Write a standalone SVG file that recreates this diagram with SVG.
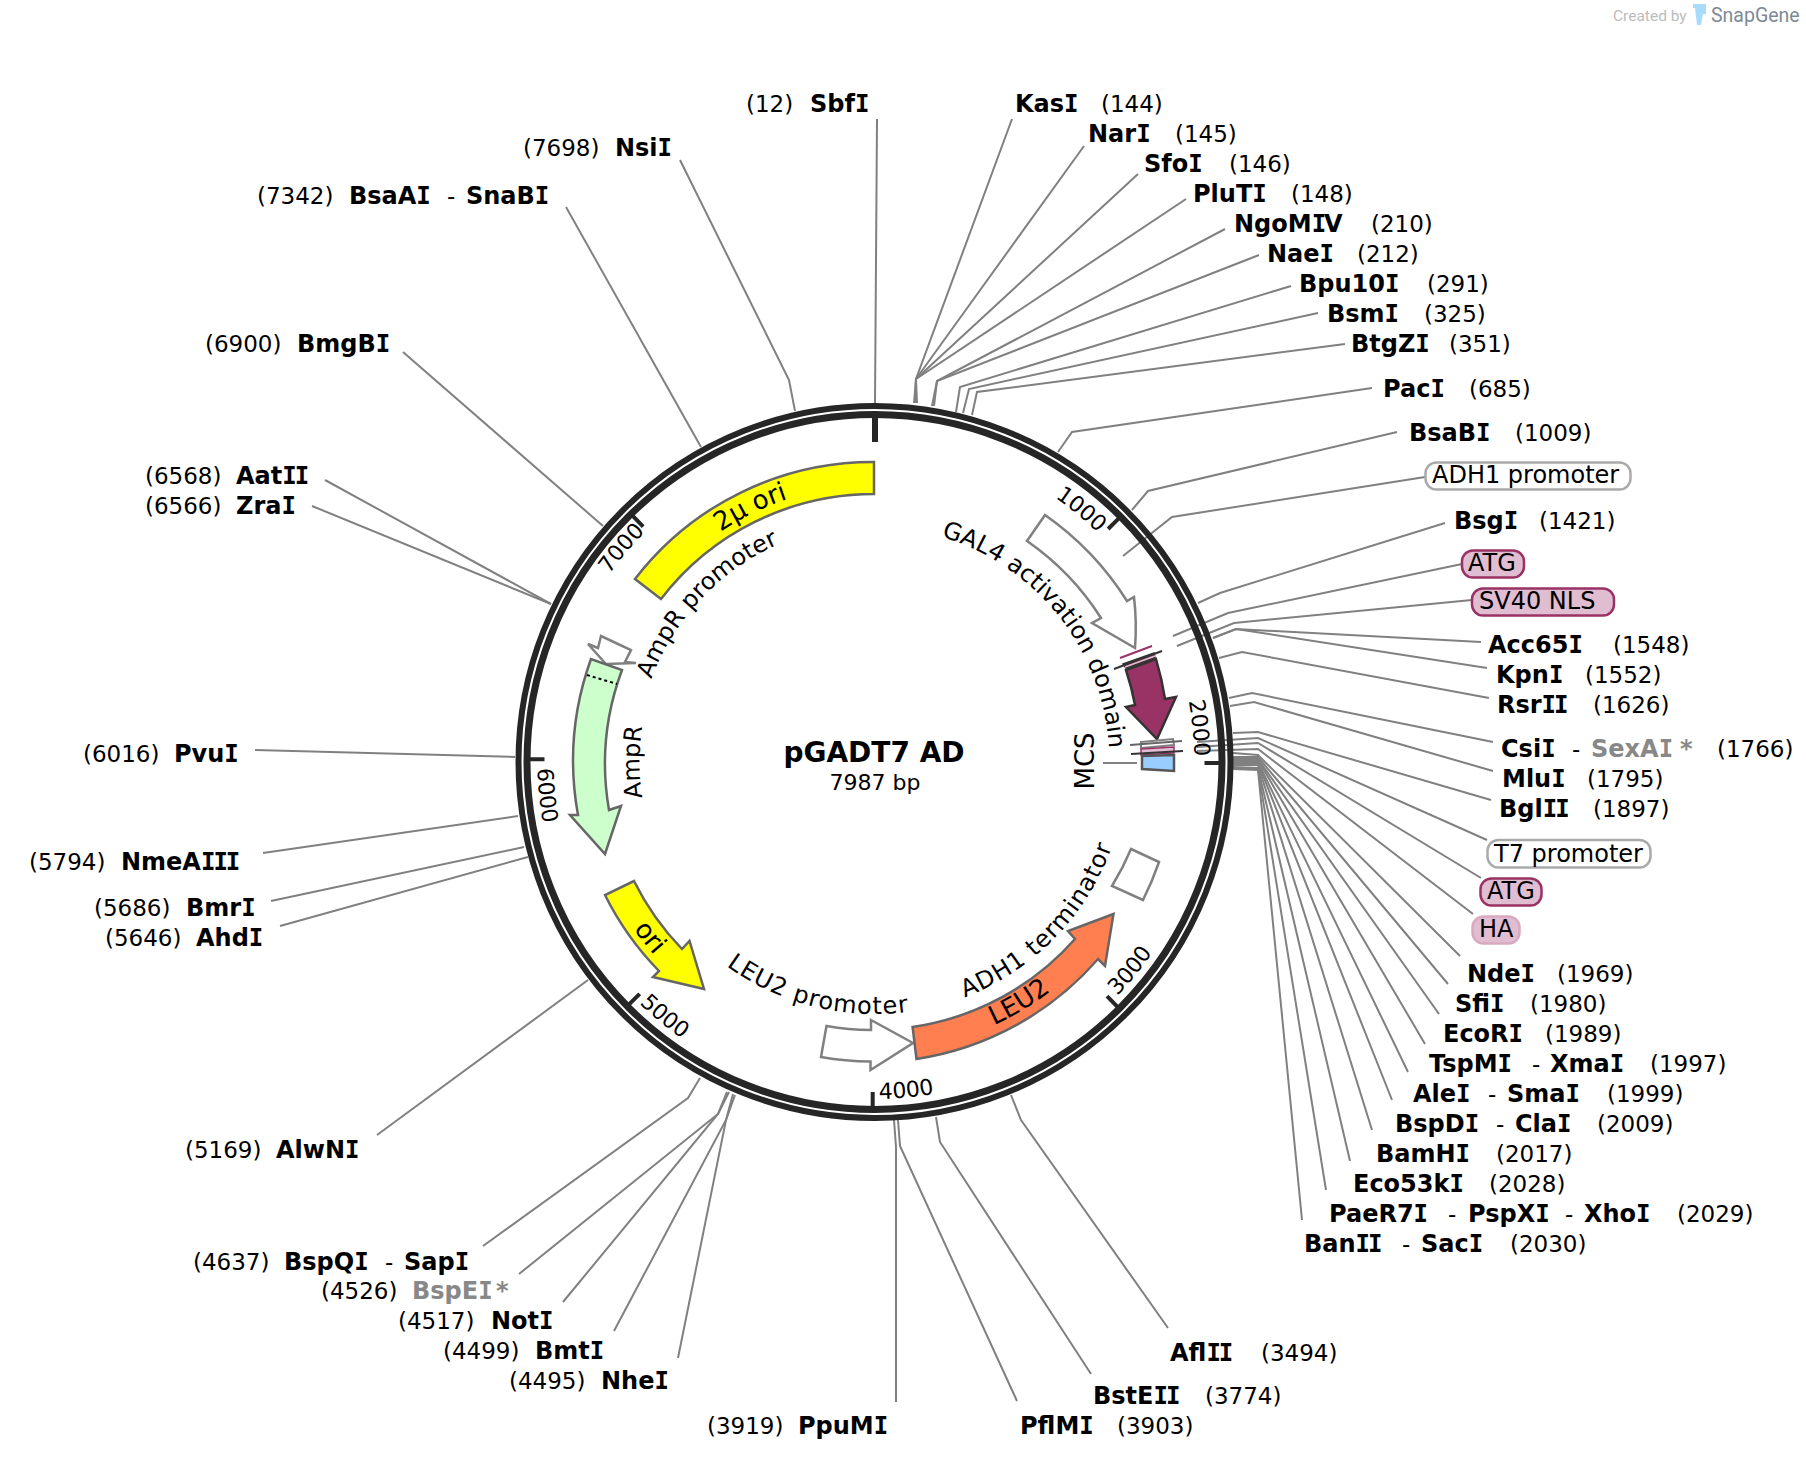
<svg xmlns="http://www.w3.org/2000/svg" width="1806" height="1462" viewBox="0 0 1806 1462">
<style>
text{font-family:"DejaVu Sans","Liberation Sans",sans-serif;fill:#000}
.n{font-size:24px;font-weight:bold}
.g{font-size:24px;font-weight:bold;fill:#888}
.i{font-family:"DejaVu Sans Mono","DejaVu Sans",monospace;letter-spacing:-2px}
.p{font-size:23px}
.f{font-size:24px}
.c{font-size:26px}
.t{font-size:22px}
.m{text-anchor:middle}
#connectors polyline{fill:none;stroke:#808080;stroke-width:2}
.feat{stroke:#666;stroke-width:2.5;stroke-linejoin:miter}
.wf{fill:#fff;stroke:#808080;stroke-width:2.5}
.tick{stroke:#262626;stroke-width:4}
.box{stroke-width:2.5}
</style>
<defs>
<path id="c235" d="M639.5,762A235,235 0 0 1 1109.5,762"/>
<path id="c238" d="M636.5,762A238,238 0 0 1 1112.5,762"/>
<path id="c277" d="M597.5,762A277,277 0 0 1 1151.5,762"/>
<path id="c320" d="M554.5,762A320,320 0 0 1 1194.5,762"/>
<path id="c325" d="M549.5,762A325,325 0 0 1 1199.5,762"/>
<path id="b252" d="M622.5,762A252,252 0 0 0 1126.5,762"/>
<path id="b289" d="M585.5,762A289,289 0 0 0 1163.5,762"/>
<path id="b293" d="M581.5,762A293,293 0 0 0 1167.5,762"/>
<path id="b337" d="M537.5,762A337,337 0 0 0 1211.5,762"/>
</defs>
<rect width="1806" height="1462" fill="#fff"/>
<g id="connectors">
<polyline points="877,119 875,403"/>
<polyline points="914,403 916,379 1012,119"/>
<polyline points="915,403 916,379 1084,146"/>
<polyline points="916,403 916,379 1138,174"/>
<polyline points="917,403 916,379 1186,199"/>
<polyline points="932,406 937,381 1225,229"/>
<polyline points="934,406 937,381 1259,255"/>
<polyline points="956,412 960,387 1291,286"/>
<polyline points="963,413 969,389 1318,313"/>
<polyline points="972,415 977,392 1345,344"/>
<polyline points="1058,452 1072,432 1372,388"/>
<polyline points="1132,510 1148,491 1397,432"/>
<polyline points="1123,556 1172,517 1425,477"/>
<polyline points="1198,603 1220,593 1445,523"/>
<polyline points="1173,636 1228,613 1462,564"/>
<polyline points="1177,646 1234,623 1472,600"/>
<polyline points="1213,638 1236,629 1481,642"/>
<polyline points="1213,638 1236,629 1487,668"/>
<polyline points="1219,658 1242,652 1489,698"/>
<polyline points="1229,698 1252,693 1493,742"/>
<polyline points="1230,706 1254,702 1493,771"/>
<polyline points="1233,733 1258,732 1491,800"/>
<polyline points="1197,742 1258,738 1487,840"/>
<polyline points="1197,747 1258,743 1481,878"/>
<polyline points="1197,751 1258,749 1473,914"/>
<polyline points="1233,753 1258,755 1460,956"/>
<polyline points="1233,757 1258,757 1448,984"/>
<polyline points="1233,758 1258,759 1439,1014"/>
<polyline points="1233,760 1258,760 1425,1044"/>
<polyline points="1233,761 1258,762 1408,1072"/>
<polyline points="1233,763 1258,763 1392,1100"/>
<polyline points="1233,765 1258,765 1372,1130"/>
<polyline points="1233,767 1258,768 1350,1161"/>
<polyline points="1233,768 1258,769 1326,1190"/>
<polyline points="1233,769 1258,770 1302,1220"/>
<polyline points="1011,1095 1021,1120 1168,1328"/>
<polyline points="936,1117 940,1142 1091,1374"/>
<polyline points="898,1120 900,1146 1017,1401"/>
<polyline points="894,1120 896,1147 896,1402"/>
<polyline points="735,1095 726,1120 678,1358"/>
<polyline points="733,1094 726,1120 614,1331"/>
<polyline points="729,1092 718,1114 563,1302"/>
<polyline points="727,1092 718,1114 519,1274"/>
<polyline points="700,1078 688,1098 483,1246"/>
<polyline points="588,980 377,1135"/>
<polyline points="528,857 280,926"/>
<polyline points="524,847 271,901"/>
<polyline points="518,816 263,853"/>
<polyline points="515,757 255,750"/>
<polyline points="551,604 312,506"/>
<polyline points="551,604 325,480"/>
<polyline points="603,526 403,352"/>
<polyline points="701,447 566,207"/>
<polyline points="795,411 789,380 680,160"/>
<polyline points="1103,763 1137,763"/>
</g>
<g id="backbone">
<circle cx="874.5" cy="762" r="356" fill="none" stroke="#262626" stroke-width="6"/>
<circle cx="874.5" cy="762" r="347.5" fill="none" stroke="#262626" stroke-width="7"/>
<path d="M875,412V442" fill="none" stroke="#262626" stroke-width="6"/>
<path class="tick" d="M1118.8,518.4L1108.1,529M1219.5,763H1204.5M1117.5,1006.9L1107,996.2M872.7,1107V1092M629,1004.4L639.7,993.9M529.5,759.3H544.5M632.7,515.9L643.2,526.6"/>
</g>
<g id="ticks">
<g transform="rotate(39.3 874.5 762)"><text class="t m"><textPath href="#c320" startOffset="50%">1000</textPath></text></g>
<g transform="rotate(84 874.5 762)"><text class="t m"><textPath href="#c320" startOffset="50%">2000</textPath></text></g>
<g transform="rotate(-50.8 874.5 762)"><text class="t m"><textPath href="#b337" startOffset="50%">3000</textPath></text></g>
<g transform="rotate(-5.5 874.5 762)"><text class="t m"><textPath href="#b337" startOffset="50%">4000</textPath></text></g>
<g transform="rotate(39.5 874.5 762)"><text class="t m"><textPath href="#b337" startOffset="50%">5000</textPath></text></g>
<g transform="rotate(84.2 874.5 762)"><text class="t m"><textPath href="#b337" startOffset="50%">6000</textPath></text></g>
<g transform="rotate(-49.8 874.5 762)"><text class="t m"><textPath href="#c325" startOffset="50%">7000</textPath></text></g>
</g>
<g id="feature-2u-ori">
<path class="feat" fill="#ffff00" d="M874,462A300,300 0 0 0 635,579L661,599A268.5,268.5 0 0 1 874,494Z"/>
<g transform="rotate(-26 874.5 762)"><text class="c m"><textPath href="#c277" startOffset="50%">2µ ori</textPath></text></g>
</g>
<g id="feature-ampr-promoter">
<polygon class="wf" points="601,636 631,650 625,662 636,663 606,664 588,644 598,648"/>
<g transform="rotate(-46.7 874.5 762)"><text class="f m"><textPath href="#c238" startOffset="50%">AmpR promoter</textPath></text></g>
</g>
<g id="feature-ampr">
<path class="feat" fill="#ccffcc" d="M591,659A301,301 0 0 0 578,815L570,815L605,854L621,806L609,810A269,269 0 0 1 622,670Z"/>
<path d="M587,675L617,684" stroke="#000" stroke-width="2" stroke-dasharray="3 3" fill="none"/>
<g transform="rotate(-90 874.5 762)"><text class="f m"><textPath href="#c235" startOffset="50%">AmpR</textPath></text></g>
</g>
<g id="feature-ori">
<path class="feat" fill="#ffff00" d="M605,895A300,300 0 0 0 659,971L653,977L704,989L689.5,941L682,949A268.5,268.5 0 0 1 634,881Z"/>
<g transform="rotate(52 874.5 762)"><text class="c m"><textPath href="#b293" startOffset="50%">ori</textPath></text></g>
</g>
<g id="feature-leu2-promoter">
<path class="wf" d="M826.5,1026A268.5,268.5 0 0 0 871,1030L871,1020L913,1043L870.5,1070L870.5,1061.5A300,300 0 0 1 821,1057Z"/>
<g transform="rotate(14 874.5 762)"><text class="f m" style="letter-spacing:1px"><textPath href="#b252" startOffset="50%">LEU2 promoter</textPath></text></g>
</g>
<g id="feature-leu2">
<path class="feat" fill="#ff7f50" d="M912.6,1027L916.5,1059A300,300 0 0 0 1098,959L1105,966L1113.5,914L1068,931L1075,939A268.5,268.5 0 0 1 912.6,1027Z"/>
<g transform="rotate(-31 874.5 762)"><text class="c m"><textPath href="#b289" startOffset="50%">LEU2</textPath></text></g>
</g>
<g id="feature-adh1-terminator">
<path class="wf" d="M1131,849L1159,862A302,302 0 0 1 1143,900L1112,886A268.5,268.5 0 0 0 1131,849Z"/>
<g transform="rotate(-45.8 874.5 762)"><text class="f m" style="letter-spacing:1px"><textPath href="#b252" startOffset="50%">ADH1 terminator</textPath></text></g>
</g>
<g id="feature-gal4">
<path class="wf" d="M1045,515A300,300 0 0 1 1127,601L1134,597Q1137,622 1135,648L1092,623L1101,618A268.5,268.5 0 0 0 1027,541Z"/>
<g transform="rotate(51.6 874.5 762)"><text class="f m"><textPath href="#c235" startOffset="50%">GAL4 activation domain</textPath></text></g>
</g>
<g id="feature-sv40-nls">
<path fill="#993366" stroke="#333" stroke-width="2.5" d="M1126,670L1156,659A300,300 0 0 1 1165,699L1176,697L1157,739L1126,707L1135,705A268.5,268.5 0 0 0 1126,670Z"/>
<path d="M1120,658L1152,646" stroke="#993366" stroke-width="2" fill="none"/>
<path d="M1123,664L1154,653L1155,658L1126,668Z" fill="#993366" stroke="#333" stroke-width="1.5"/>
<path d="M1114,669L1162,651" stroke="#333" stroke-width="2" fill="none"/>
<path d="M1125,667L1155,656" stroke="#e0bdd1" stroke-width="1.5" fill="none"/>
</g>
<g id="feature-mcs">
<path d="M1141,742L1173,739L1174,745L1141,748Z" fill="#fff" stroke="#808080" stroke-width="2"/>
<path d="M1130,745L1182,741" stroke="#666" stroke-width="2" fill="none"/>
<path d="M1141,749L1174,747L1174,753L1141,755Z" fill="#e0bdd1" stroke="#993366" stroke-width="1.5"/>
<path d="M1131,754L1183,751" stroke="#333" stroke-width="2" fill="none"/>
<path d="M1142,756L1174,755L1174,771L1142,769Z" fill="#99ccff" stroke="#555" stroke-width="2.5"/>
<text class="c m" transform="translate(1094 761) rotate(-90)">MCS</text>
</g>
<g id="title">
<text x="874" y="762" class="m" style="font-size:28px;font-weight:bold">pGADT7 AD</text>
<text x="875" y="790" class="m" style="font-size:22px">7987 bp</text>
</g>
<g id="label-boxes">
<g id="b-adh1"><rect class="box" x="1425.5" y="462.5" width="205" height="27" rx="11" fill="#fff" stroke="#aaa"/><text class="f" x="1432" y="483">ADH1 promoter</text></g>
<g id="b-atg1"><rect class="box" x="1462" y="550.5" width="62" height="27" rx="11" fill="#e0bdd1" stroke="#993366"/><text class="f" x="1468" y="571">ATG</text></g>
<g id="b-sv40"><rect class="box" x="1472" y="588.5" width="142" height="27" rx="11" fill="#e0bdd1" stroke="#993366"/><text class="f" x="1479" y="609">SV40 NLS</text></g>
<g id="b-t7"><rect class="box" x="1487.5" y="840" width="163" height="27.5" rx="11" fill="#fff" stroke="#aaa"/><text class="f" x="1494" y="862">T7 promoter</text></g>
<g id="b-atg2"><rect class="box" x="1480.5" y="878.5" width="61" height="27" rx="11" fill="#e0bdd1" stroke="#993366"/><text class="f" x="1487" y="899">ATG</text></g>
<g id="b-ha"><rect class="box" x="1472.5" y="916.5" width="47" height="27" rx="11" fill="#e0bdd1" stroke="#d9a9c0"/><text class="f" x="1479" y="937">HA</text></g>
</g>
<g id="sites">
<g id="SbfI"><text class="p" x="746" y="112">(12)</text><text class="n" x="810" y="112">Sbf<tspan class="i">I</tspan></text></g>
<g id="KasI"><text class="n" x="1015" y="112">Kas<tspan class="i">I</tspan></text><text class="p" x="1101" y="112">(144)</text></g>
<g id="NarI"><text class="n" x="1088" y="142">Nar<tspan class="i">I</tspan></text><text class="p" x="1175" y="142">(145)</text></g>
<g id="SfoI"><text class="n" x="1144" y="172">Sfo<tspan class="i">I</tspan></text><text class="p" x="1229" y="172">(146)</text></g>
<g id="PluTI"><text class="n" x="1193" y="202">PluT<tspan class="i">I</tspan></text><text class="p" x="1291" y="202">(148)</text></g>
<g id="NgoMIV"><text class="n" x="1234" y="232">NgoM<tspan class="i">I</tspan>V</text><text class="p" x="1371" y="232">(210)</text></g>
<g id="NaeI"><text class="n" x="1267" y="262">Nae<tspan class="i">I</tspan></text><text class="p" x="1357" y="262">(212)</text></g>
<g id="Bpu10I"><text class="n" x="1299" y="292">Bpu10<tspan class="i">I</tspan></text><text class="p" x="1427" y="292">(291)</text></g>
<g id="BsmI"><text class="n" x="1327" y="322">Bsm<tspan class="i">I</tspan></text><text class="p" x="1424" y="322">(325)</text></g>
<g id="BtgZI"><text class="n" x="1351" y="352">BtgZ<tspan class="i">I</tspan></text><text class="p" x="1449" y="352">(351)</text></g>
<g id="PacI"><text class="n" x="1383" y="397">Pac<tspan class="i">I</tspan></text><text class="p" x="1469" y="397">(685)</text></g>
<g id="BsaBI"><text class="n" x="1409" y="441">BsaB<tspan class="i">I</tspan></text><text class="p" x="1515" y="441">(1009)</text></g>
<g id="BsgI"><text class="n" x="1454" y="529">Bsg<tspan class="i">I</tspan></text><text class="p" x="1539" y="529">(1421)</text></g>
<g id="Acc65I"><text class="n" x="1488" y="653">Acc65<tspan class="i">I</tspan></text><text class="p" x="1613" y="653">(1548)</text></g>
<g id="KpnI"><text class="n" x="1496" y="683">Kpn<tspan class="i">I</tspan></text><text class="p" x="1585" y="683">(1552)</text></g>
<g id="RsrII"><text class="n" x="1497" y="713">Rsr<tspan class="i">II</tspan></text><text class="p" x="1593" y="713">(1626)</text></g>
<g id="CsiI"><text class="n" x="1501" y="757">Csi<tspan class="i">I</tspan></text><text class="p" x="1572" y="757">-</text><text class="g" x="1591" y="757">SexA<tspan class="i">I</tspan></text><text class="g" x="1680" y="757">*</text><text class="p" x="1717" y="757">(1766)</text></g>
<g id="MluI"><text class="n" x="1502" y="787">Mlu<tspan class="i">I</tspan></text><text class="p" x="1587" y="787">(1795)</text></g>
<g id="BglII"><text class="n" x="1499" y="817">Bgl<tspan class="i">II</tspan></text><text class="p" x="1593" y="817">(1897)</text></g>
<g id="NdeI"><text class="n" x="1467" y="982">Nde<tspan class="i">I</tspan></text><text class="p" x="1557" y="982">(1969)</text></g>
<g id="SfiI"><text class="n" x="1455" y="1012">Sfi<tspan class="i">I</tspan></text><text class="p" x="1530" y="1012">(1980)</text></g>
<g id="EcoRI"><text class="n" x="1443" y="1042">EcoR<tspan class="i">I</tspan></text><text class="p" x="1545" y="1042">(1989)</text></g>
<g id="TspMI"><text class="n" x="1429" y="1072">TspM<tspan class="i">I</tspan></text><text class="p" x="1532" y="1072">-</text><text class="n" x="1550" y="1072">Xma<tspan class="i">I</tspan></text><text class="p" x="1650" y="1072">(1997)</text></g>
<g id="AleI"><text class="n" x="1413" y="1102">Ale<tspan class="i">I</tspan></text><text class="p" x="1488" y="1102">-</text><text class="n" x="1507" y="1102">Sma<tspan class="i">I</tspan></text><text class="p" x="1607" y="1102">(1999)</text></g>
<g id="BspDI"><text class="n" x="1395" y="1132">BspD<tspan class="i">I</tspan></text><text class="p" x="1496" y="1132">-</text><text class="n" x="1515" y="1132">Cla<tspan class="i">I</tspan></text><text class="p" x="1597" y="1132">(2009)</text></g>
<g id="BamHI"><text class="n" x="1376" y="1162">BamH<tspan class="i">I</tspan></text><text class="p" x="1496" y="1162">(2017)</text></g>
<g id="Eco53kI"><text class="n" x="1353" y="1192">Eco53k<tspan class="i">I</tspan></text><text class="p" x="1489" y="1192">(2028)</text></g>
<g id="PaeR7I"><text class="n" x="1329" y="1222">PaeR7<tspan class="i">I</tspan></text><text class="p" x="1448" y="1222">-</text><text class="n" x="1468" y="1222">PspX<tspan class="i">I</tspan></text><text class="p" x="1565" y="1222">-</text><text class="n" x="1584" y="1222">Xho<tspan class="i">I</tspan></text><text class="p" x="1677" y="1222">(2029)</text></g>
<g id="BanII"><text class="n" x="1304" y="1252">Ban<tspan class="i">II</tspan></text><text class="p" x="1402" y="1252">-</text><text class="n" x="1421" y="1252">Sac<tspan class="i">I</tspan></text><text class="p" x="1510" y="1252">(2030)</text></g>
<g id="AflII"><text class="n" x="1170" y="1361">Afl<tspan class="i">II</tspan></text><text class="p" x="1261" y="1361">(3494)</text></g>
<g id="BstEII"><text class="n" x="1093" y="1404">BstE<tspan class="i">II</tspan></text><text class="p" x="1205" y="1404">(3774)</text></g>
<g id="PflMI"><text class="n" x="1020" y="1434">PflM<tspan class="i">I</tspan></text><text class="p" x="1117" y="1434">(3903)</text></g>
<g id="PpuMI"><text class="p" x="707" y="1434">(3919)</text><text class="n" x="798" y="1434">PpuM<tspan class="i">I</tspan></text></g>
<g id="NheI"><text class="p" x="509" y="1389">(4495)</text><text class="n" x="601" y="1389">Nhe<tspan class="i">I</tspan></text></g>
<g id="BmtI"><text class="p" x="443" y="1359">(4499)</text><text class="n" x="535" y="1359">Bmt<tspan class="i">I</tspan></text></g>
<g id="NotI"><text class="p" x="398" y="1329">(4517)</text><text class="n" x="491" y="1329">Not<tspan class="i">I</tspan></text></g>
<g id="BspEI"><text class="p" x="321" y="1299">(4526)</text><text class="g" x="412" y="1299">BspE<tspan class="i">I</tspan></text><text class="g" x="496" y="1299">*</text></g>
<g id="BspQI"><text class="p" x="193" y="1270">(4637)</text><text class="n" x="284" y="1270">BspQ<tspan class="i">I</tspan></text><text class="p" x="385" y="1270">-</text><text class="n" x="404" y="1270">Sap<tspan class="i">I</tspan></text></g>
<g id="AlwNI"><text class="p" x="185" y="1158">(5169)</text><text class="n" x="276" y="1158">AlwN<tspan class="i">I</tspan></text></g>
<g id="AhdI"><text class="p" x="105" y="946">(5646)</text><text class="n" x="196" y="946">Ahd<tspan class="i">I</tspan></text></g>
<g id="BmrI"><text class="p" x="94" y="916">(5686)</text><text class="n" x="186" y="916">Bmr<tspan class="i">I</tspan></text></g>
<g id="NmeAIII"><text class="p" x="29" y="870">(5794)</text><text class="n" x="121" y="870">NmeA<tspan class="i">III</tspan></text></g>
<g id="PvuI"><text class="p" x="83" y="762">(6016)</text><text class="n" x="174" y="762">Pvu<tspan class="i">I</tspan></text></g>
<g id="ZraI"><text class="p" x="145" y="514">(6566)</text><text class="n" x="236" y="514">Zra<tspan class="i">I</tspan></text></g>
<g id="AatII"><text class="p" x="145" y="484">(6568)</text><text class="n" x="236" y="484">Aat<tspan class="i">II</tspan></text></g>
<g id="BmgBI"><text class="p" x="205" y="352">(6900)</text><text class="n" x="297" y="352">BmgB<tspan class="i">I</tspan></text></g>
<g id="BsaAI"><text class="p" x="257" y="204">(7342)</text><text class="n" x="349" y="204">BsaA<tspan class="i">I</tspan></text><text class="p" x="447" y="204">-</text><text class="n" x="466" y="204">SnaB<tspan class="i">I</tspan></text></g>
<g id="NsiI"><text class="p" x="523" y="156">(7698)</text><text class="n" x="615" y="156">Nsi<tspan class="i">I</tspan></text></g>
</g>
<g id="snapgene">
<text x="1613" y="21" style="font-family:Roboto,sans-serif;font-size:15.5px;fill:#bcbcbc">Created by</text>
<path d="M1693,4H1706V14H1703L1701,25H1697L1695,8H1693Z" fill="#a9dcfb"/>
<text x="1711" y="22" style="font-family:Roboto,sans-serif;font-size:19.5px;fill:#7d8a94">SnapGene</text>
</g>
</svg>
